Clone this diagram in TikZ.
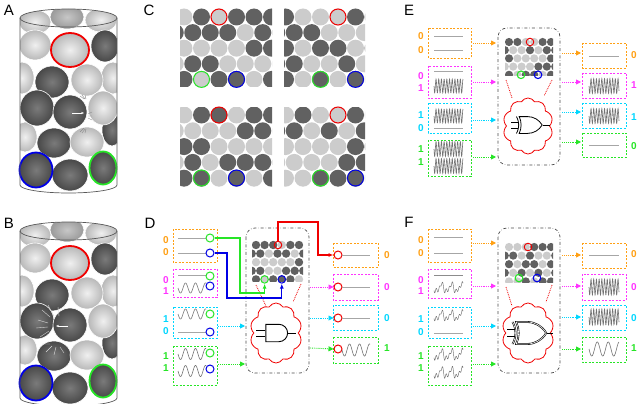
\documentclass[tikz,border=0pt]{standalone}
\usepackage{fontspec}
\setmainfont{Liberation Sans}
\usetikzlibrary{shapes.symbols,shapes.gates.logic.US,arrows.meta}
\definecolor{cor}{RGB}{255,160,20}
\definecolor{magcol}{rgb}{1,0.2,1}
\definecolor{ccy}{RGB}{0,215,255}
\definecolor{grncol}{rgb}{0.15,0.9,0.15}
\definecolor{cbl}{RGB}{0,0,230}
\definecolor{crd}{RGB}{240,0,0}
\colorlet{cmg}{magcol}
\colorlet{cgr}{grncol}
\tikzset{
 darkdisc/.style={fill=black!62},
 lightdisc/.style={fill=black!20},
 sig/.style={draw=black!35,line width=0.8pt},
 wav/.style={draw=black!55,line width=0.6pt},
 sbox/.style={draw=#1,dash pattern=on 2pt off 1.5pt,line width=0.9pt},
 ring/.style={circle,draw=#1,line width=1pt,minimum size=8pt,inner sep=0pt},
 bring/.style={line width=1.8pt},
 dar/.style={densely dotted,line width=0.9pt,-{Triangle[length=5pt,width=5pt]}},
 wire/.style={line width=1.1pt,-{Latex[length=5pt,width=4pt]}},
 plate/.style={draw=black!70,dash dot,rounded corners=9pt,line width=0.7pt},
 cl/.style={cloud,draw=crd,cloud puffs=10,cloud puff arc=120,line width=0.8pt,aspect=0.85},
 panel/.style={font=\fontsize{15}{15}\selectfont,inner sep=0pt},
 bit/.style={font=\fontsize{10}{10}\selectfont\bfseries,inner sep=0pt},
}
\newcommand\discgrid[6]{%
 \foreach \pat [count=\rr] in {#6}{%
   \foreach \v [count=\cc] in \pat {%
     \pgfmathsetmacro\xx{#1+(\cc-1)*#3-(1-mod(\rr,2))*#3/2}%
     \pgfmathsetmacro\yy{#2+(\rr-1)*#4}%
     \ifnum\v=1 \fill[darkdisc] (\xx,\yy) circle (#5);\else\fill[lightdisc] (\xx,\yy) circle (#5);\fi
 }}}
\newcommand\flatsig[3]{\draw[sig] (#1,#3) -- (#2,#3);}
\newcommand\sinesig[5]{\draw[wav] plot[domain=#1:#2,samples=90,smooth] (\x,{#3+#4*sin(360*(\x-#1)/#5)});}
\newcommand\zigsig[4]{\draw[wav] plot[domain=#1:#2,samples=160] (\x,{#3+#4*sin(360*(\x-#1)/2.7)});}
\newcommand\noisesig[4]{\draw[wav,line width=0.45pt] plot[domain=#1:#2,samples=120] (\x,{#3+#4*(0.6*sin(360*(\x-#1)/10)+0.35*sin(360*(\x-#1)/3.3+30)+0.25*sin(360*(\x-#1)/5.1+70))});}
\newcommand\ballL[4]{\shade[inner color=black!6,outer color=black!28,draw=white,line width=0.6pt] (#1,#2) ellipse (#3 and #4);}
\newcommand\ballM[4]{\shade[inner color=black!22,outer color=black!40,draw=white,line width=0.6pt] (#1,#2) ellipse (#3 and #4);}
\newcommand\ballD[4]{\shade[inner color=black!52,outer color=black!72,draw=white,line width=0.6pt] (#1,#2) ellipse (#3 and #4);}
\newcommand\cylinder[1]{%
 \begin{scope}
 \clip (20,18) arc[start angle=180,end angle=360,x radius=48.5,y radius=9] -- (117,185) arc[start angle=0,end angle=180,x radius=48.5,y radius=8] -- cycle;
 \fill[white] (0,0) rectangle (140,200);
 \ballL{35}{22}{16}{12}\ballM{67}{17}{17}{12}\ballL{101}{20}{16}{12}
 \ballL{22}{78}{12}{16}\ballL{113}{78}{12}{16}
 \ballL{35}{45}{16}{15}\ballL{70}{50}{19}{17}\ballD{105}{46}{14}{16}
 \ballD{52}{82}{17}{16}\ballL{87}{80}{16}{16}
 \ballL{25}{137}{12}{15}\ballD{112}{130}{10}{16}
 \ballD{37}{108}{17}{18}\ballD{70}{112}{17}{17}\ballL{103}{108}{15}{17}
 \ballD{54}{143}{17}{15}\ballL{87}{142}{17}{15}
 \ballD{36}{170}{17}{18}\ballD{70}{175}{18}{16}\ballD{103}{168}{14}{17}
 #1
 \end{scope}
 \draw[crd,bring] (70,50) ellipse (19 and 17);
 \draw[cbl,bring] (36,170) ellipse (16.5 and 17.5);
 \draw[cgr,bring] (103,168) ellipse (13.5 and 16.5);
 \draw[black!65,line width=0.7pt] (68.5,18) ellipse (48.5 and 9);
 \draw[black!65,line width=0.7pt] (20,18) -- (20,185) arc[start angle=180,end angle=0,x radius=48.5,y radius=8] -- (117,18);
}
\begin{document}
\begin{tikzpicture}[x=1pt,y=-1pt]
\fill[white] (0,0) rectangle (640,404);
\useasboundingbox (0,0) rectangle (640,404);
% panel letters
\node[panel] (lA) at (9,10) {A};
\node[panel] (lB) at (9,223) {B};
\node[panel] (lC) at (149,10) {C};
\node[panel] (lD) at (150,223) {D};
\node[panel] (lE) at (409,10) {E};
\node[panel] (lF) at (409,222) {F};
% cylinders
\cylinder{\draw[white,line width=1pt,-{Stealth[length=3pt]}] (72,113) -- (84,113);
 \draw[black!45,line width=0.4pt] (80,96)--(84,99) (82,95)--(85,99) (85,95)--(86,99) (88,114)--(92,112) (88,116)--(92,116) (88,118)--(92,120) (80,132)--(84,128) (82,133)--(85,129) (85,133)--(86,129);}
\begin{scope}[shift={(0,213)}]
\cylinder{\draw[white,line width=1pt,-{Stealth[length=3pt]}] (68,113) -- (56,113);
 \draw[white!85!black,line width=0.4pt] (50,104)--(42,97) (54,103)--(48,92) (59,103)--(58,94) (48,110)--(38,107) (48,114)--(36,115) (49,118)--(40,124) (52,133)--(46,139) (56,134)--(54,142) (60,134)--(64,140) (50,131)--(42,131);}
\end{scope}
% panel C grids
\begin{scope}\clip (180,7) rectangle (272,87);
\discgrid{184}{17}{17.5}{15.6}{8.5}{{0,1,0,1,1,1},{1,1,1,1,0,1,1},{0,0,0,0,1,1},{0,1,1,0,0,0,0},{1,0,1,1,0,1}}
\end{scope}
\begin{scope}\clip (284,7) rectangle (365,87);
\discgrid{285.5}{17}{17.5}{15.6}{8.5}{{1,0,0,0,1,1},{1,1,1,0,0,0,1},{1,0,1,1,0,1},{1,1,0,0,1,0,0},{1,0,1,0,1,0}}
\end{scope}
\begin{scope}\clip (180,107) rectangle (272,187);
\discgrid{184}{115}{17.5}{15.8}{8.5}{{0,1,1,0,1,1},{0,0,0,0,1,1,0},{1,1,0,0,0,0},{0,1,0,1,1,1,1},{1,1,0,1,0,1}}
\end{scope}
\begin{scope}\clip (284,107) rectangle (365,187);
\discgrid{285.5}{115}{17.5}{15.8}{8.5}{{0,1,0,0,1,0},{1,1,0,1,0,1,1},{0,0,0,0,1,1},{0,0,0,0,1,1,1},{0,0,1,1,1,0}}
\end{scope}
\foreach \cx/\cy in {219/17,338/17,219/115,338/115} \draw[crd,line width=1pt] (\cx,\cy) circle (8);
\foreach \cx/\cy in {201.5/79.4,320.5/79.4,201.5/178,320.5/178} \draw[cgr,line width=1pt] (\cx,\cy) circle (8);
\foreach \cx/\cy in {236.5/79.4,355.5/79.4,236.5/178,355.5/178} \draw[cbl,line width=1pt] (\cx,\cy) circle (8);
% ================= panel D
\draw[plate] (246,228) rectangle (309,373);
\begin{scope}\clip (252,240) rectangle (303,281);
\discgrid{256}{245}{8.6}{8.6}{4.2}{{1,1,1,0,1,1,1},{1,1,0,1,1,0,1,1},{0,0,0,0,0,1,1},{1,1,0,0,1,1,1,0},{1,0,1,1,1,0,1}}
\end{scope}
\node[ring=crd,minimum size=7.5pt] (dR) at (278,245) {};
\node[ring=cgr,minimum size=7.5pt] (dG) at (264.6,279.4) {};
\node[ring=cbl,minimum size=7.5pt] (dB) at (281.8,279.4) {};
\draw[crd,densely dotted,line width=0.8pt] (256,285)--(266,306) (301,284)--(293,302);
\node[cl,minimum width=52pt,minimum height=60pt] (dcloud) at (276,333) {};
\node[and gate US,draw,logic gate inputs=nn,line width=0.9pt,minimum height=17pt,minimum width=16pt] (dgate) at (276,333) {};
\draw[line width=0.7pt] (dgate.input 1) -- ++(-9,0) (dgate.input 2) -- ++(-9,0) (dgate.output) -- ++(8,0);
% inputs D
\draw[sbox=cor] (173,229) rectangle (217,262);
\draw[sbox=magcol] (173,269) rectangle (217,297);
\draw[sbox=ccy] (173,307) rectangle (217,338);
\draw[sbox=grncol] (173,346) rectangle (217,385);
\flatsig{178}{206}{238}\flatsig{178}{206}{253}
\flatsig{178}{206}{275}\sinesig{178}{206}{288}{5}{10}
\sinesig{178}{206}{314}{5}{10}\flatsig{178}{206}{332}
\sinesig{178}{206}{354}{5.5}{10}\sinesig{178}{206}{371}{5.5}{10}
\node[ring=cgr] (i1g) at (210,238) {};\node[ring=cbl] (i1b) at (210,253) {};
\node[ring=cgr] (i2g) at (210,276) {};\node[ring=cbl] (i2b) at (210,286) {};
\node[ring=cgr] (i3g) at (210,314) {};\node[ring=cbl] (i3b) at (210,332) {};
\node[ring=cgr] (i4g) at (210,353) {};\node[ring=cbl] (i4b) at (210,369) {};
\foreach \y/\t/\c in {240/0/cor,252/0/cor,280/0/cmg,291/1/cmg,319/1/ccy,331/0/ccy,356/1/cgr,368/1/cgr} \node[bit,text=\c] at (166,\y) {\t};
% outputs D
\draw[sbox=cor] (333,243) rectangle (378,267);
\draw[sbox=magcol] (333,274) rectangle (378,300);
\draw[sbox=ccy] (333,305) rectangle (378,330);
\draw[sbox=grncol] (333,337) rectangle (378,363);
\node[ring=crd] (o1) at (338,255) {};\node[ring=crd] (o2) at (338,287) {};
\node[ring=crd] (o3) at (338,318) {};\node[ring=crd] (o4) at (338,349) {};
\flatsig{342}{370}{255}\flatsig{342}{370}{287}\flatsig{342}{370}{318}\sinesig{342}{370}{350}{6}{10}
\foreach \y/\t/\c in {255/0/cor,287/0/cmg,318/0/ccy,348/1/cgr} \node[bit,text=\c] at (387,\y) {\t};
% D wires
\draw[wire,cgr] (i1g.east) -- (240,238) -- (240,293) -- (264.6,293) -- (dG.south);
\draw[wire,cbl] (i1b.east) -- (227,253) -- (227,298) -- (281.8,298) -- (dB.south);
\draw[wire,crd] (dR.north) -- (278,222) -- (318,222) -- (318,255) -- (o1.west);
\draw[dar,ccy] (218,326) -- (245,326);
\draw[dar,grncol] (218,364) -- (245,364);
\draw[dar,magcol] (310,287) -- (o2.west);
\draw[dar,ccy] (310,318) -- (o3.west);
\draw[dar,grncol] (310,348) -- (o4.west);
% ================= panel E
\draw[plate] (498,28) rectangle (560,165);
\begin{scope}\clip (505,38) rectangle (553,76);
\discgrid{509}{42}{8.4}{8.2}{4.1}{{1,1,0,0,1,1,0},{1,0,0,1,0,1,1,1},{1,0,0,0,0,1,1},{0,0,0,0,1,1,1,1},{1,0,1,1,0,1,1}}
\end{scope}
\draw[crd,line width=0.9pt] (530,42) circle (3.8);
\draw[cgr,line width=1.1pt] (521,74.8) circle (3.8);
\draw[cbl,line width=1.1pt] (538,74.8) circle (3.8);
\draw[crd,densely dotted,line width=0.8pt] (506,80)--(512,98) (552,80)--(544,96);
\node[cl,minimum width=50pt,minimum height=56pt] (ecloud) at (528,126) {};
\node[xor gate US,draw,logic gate inputs=nn,line width=0.8pt,minimum height=14pt,minimum width=17pt] (egate) at (529,125) {};
\draw[line width=0.6pt] (egate.input 1) -- ++(-7,0) (egate.input 2) -- ++(-7,0) (egate.output) -- ++(7,0);
\draw[sbox=cor] (428,28) rectangle (471,58);
\draw[sbox=magcol] (428,66) rectangle (471,98);
\draw[sbox=ccy] (428,103) rectangle (471,133);
\draw[sbox=grncol] (428,140) rectangle (471,176);
\flatsig{434}{463}{36}\flatsig{434}{463}{50}
\flatsig{434}{463}{71}\zigsig{434}{463}{86}{7}
\zigsig{434}{463}{116}{7}\flatsig{434}{463}{128}
\zigsig{434}{463}{149}{7.5}\zigsig{434}{463}{166}{7.5}
\foreach \y/\t/\c in {36/0/cor,50/0/cor,76/0/cmg,88/1/cmg,115/1/ccy,128/0/ccy,149/1/cgr,162/1/cgr} \node[bit,text=\c] at (421,\y) {\t};
\draw[sbox=cor] (582,43) rectangle (626,68);
\draw[sbox=magcol] (582,73) rectangle (626,98);
\draw[sbox=ccy] (582,103) rectangle (626,128);
\draw[sbox=grncol] (582,133) rectangle (626,157);
\flatsig{589}{619}{56}\zigsig{589}{619}{86}{7.5}\zigsig{589}{619}{116}{7.5}\flatsig{589}{619}{145}
\foreach \y/\t/\c in {55/0/cor,85/1/cmg,117/1/ccy,146/0/cgr} \node[bit,text=\c] at (634,\y) {\t};
\foreach \y/\c in {43/cor,82/magcol,120/ccy,157/grncol} \draw[dar,\c] (473,\y) -- (496,\y);
\foreach \y/\c in {53/cor,82/magcol,112/ccy,142/grncol} \draw[dar,\c] (562,\y) -- (581,\y);
% ================= panel F
\draw[plate] (498,228) rectangle (560,373);
\begin{scope}\clip (505,242) rectangle (553,282);
\discgrid{509}{247}{8.4}{8.6}{4.1}{{0,0,0,1,1,1,1},{1,1,0,1,0,0,1,1},{1,0,1,1,0,1,1},{1,0,1,0,1,0,1,1},{0,0,1,0,1,1,1}}
\end{scope}
\draw[crd,line width=0.9pt] (528,247) circle (3.8);
\draw[cgr,line width=1.1pt] (519,278) circle (3.8);
\draw[cbl,line width=1.1pt] (537,278) circle (3.8);
\draw[crd,densely dotted,line width=0.8pt] (506,287)--(512,306) (552,285)--(546,302);
\node[cl,minimum width=52pt,minimum height=60pt] (fcloud) at (528,333) {};
\node[xor gate US,draw,logic gate inputs=nn,double,line width=0.6pt,minimum height=22pt,minimum width=26pt] (fgate) at (529,333) {};
\draw[line width=0.7pt] (fgate.input 1) -- ++(-8,0) (fgate.input 2) -- ++(-8,0) (fgate.output) -- ++(6,0);
\draw[sbox=cor] (428,229) rectangle (471,262);
\draw[sbox=magcol] (428,269) rectangle (471,298);
\draw[sbox=ccy] (428,307) rectangle (471,338);
\draw[sbox=grncol] (428,346) rectangle (471,385);
\flatsig{434}{463}{237}\flatsig{434}{463}{253}
\draw[black!45,line width=1pt] (434,275)--(463,275);\noisesig{434}{463}{288}{6}
\noisesig{434}{463}{316}{6}\flatsig{434}{463}{333}
\noisesig{434}{463}{355}{6.5}\noisesig{434}{463}{373}{6.5}
\foreach \y/\t/\c in {240/0/cor,253/0/cor,280/0/cmg,291/1/cmg,319/1/ccy,332/0/ccy,356/1/cgr,368/1/cgr} \node[bit,text=\c] at (421,\y) {\t};
\draw[sbox=cor] (582,243) rectangle (626,268);
\draw[sbox=magcol] (582,274) rectangle (626,300);
\draw[sbox=ccy] (582,305) rectangle (626,330);
\draw[sbox=grncol] (582,337) rectangle (626,362);
\flatsig{589}{619}{255}\zigsig{589}{619}{287}{8}\zigsig{589}{619}{317}{8}\sinesig{589}{619}{349}{7}{11}
\foreach \y/\t/\c in {254/0/cor,287/0/cmg,318/0/ccy,348/1/cgr} \node[bit,text=\c] at (634,\y) {\t};
\foreach \y/\c in {243/cor,286/magcol,326/ccy,364/grncol} \draw[dar,\c] (473,\y) -- (496,\y);
\foreach \y/\c in {255/cor,286/magcol,317/ccy,349/grncol} \draw[dar,\c] (562,\y) -- (581,\y);
\end{tikzpicture}
\end{document}
